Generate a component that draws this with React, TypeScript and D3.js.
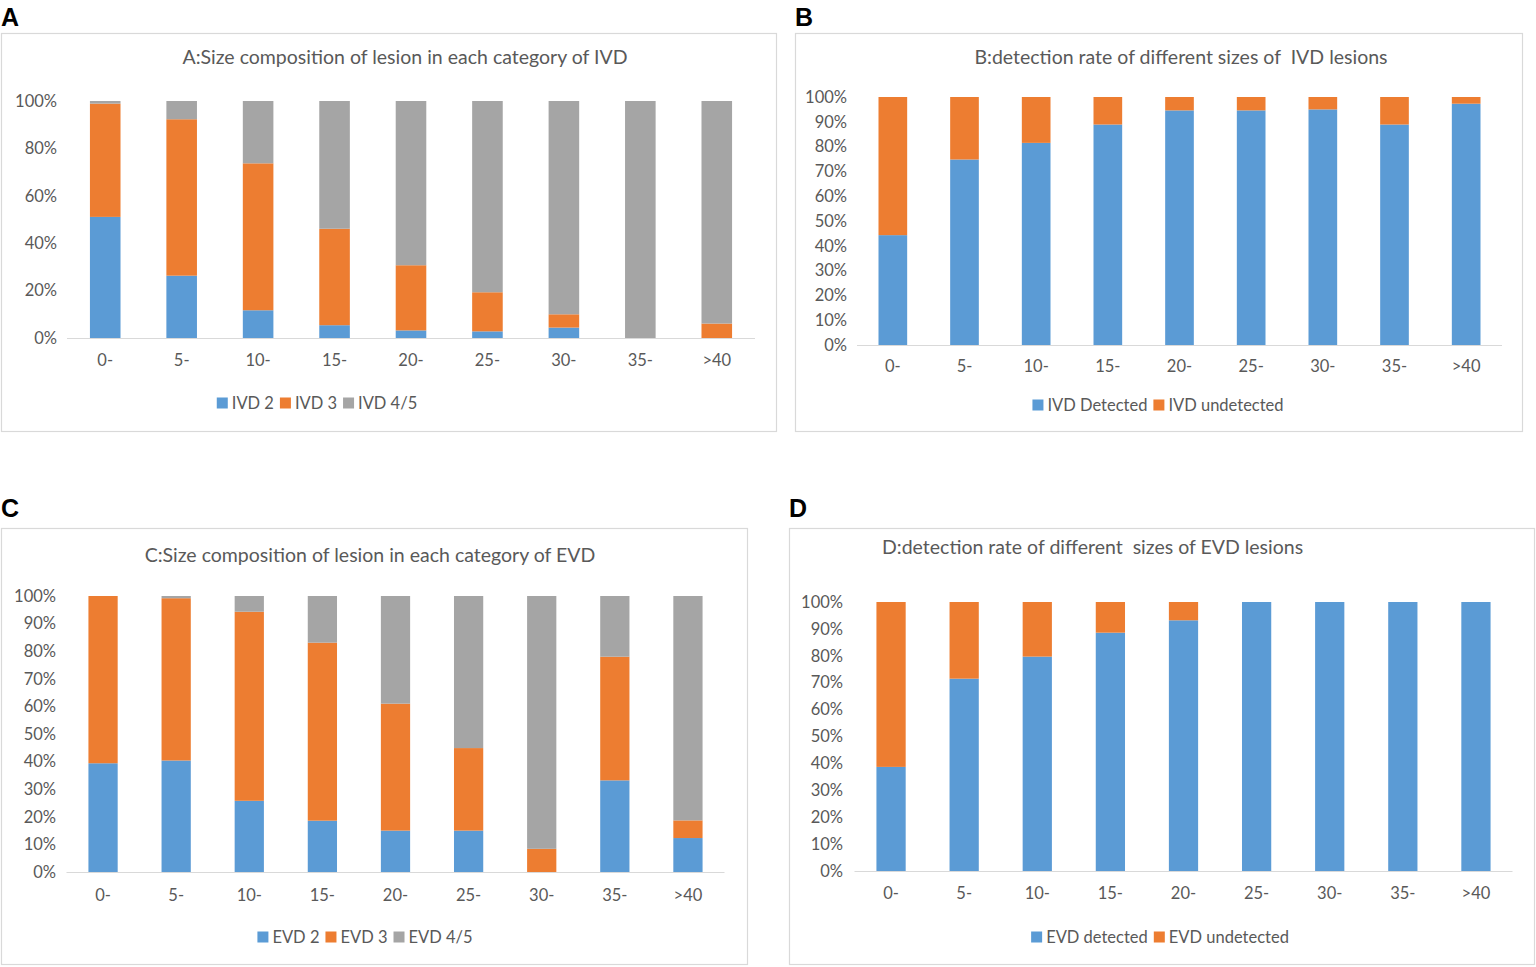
import React, { useEffect, useRef } from 'react';
import * as d3 from 'd3';

// size categories shared by all four charts
const sizeBins = ['0-', '5-', '10-', '15-', '20-', '25-', '30-', '35-', '>40'];

// A: IVD composition (%)
const ivd2 = [51.1, 26.3, 11.7, 5.4, 3.2, 2.8, 4.4, 0, 0];
const ivd3 = [47.8, 66.0, 62.0, 40.7, 27.5, 16.5, 5.6, 0, 6.1];
const ivd45 = [1.1, 7.7, 26.3, 53.9, 69.3, 80.7, 90.0, 100, 93.9];

// B: IVD detection (%)
const ivdDetected = [44.3, 74.8, 81.5, 88.9, 94.6, 94.6, 95.0, 88.9, 97.3];
const ivdUndetected = [55.7, 25.2, 18.5, 11.1, 5.4, 5.4, 5.0, 11.1, 2.7];

// C: EVD composition (%)
const evd2 = [39.4, 40.4, 25.8, 18.6, 15.0, 15.0, 0, 33.2, 12.3];
const evd3 = [60.6, 58.8, 68.5, 64.5, 46.0, 29.9, 8.4, 44.8, 6.4];
const evd45 = [0, 0.8, 5.7, 16.9, 39.0, 55.1, 91.6, 22.0, 81.3];

// D: EVD detection (%)
const evdDetected = [38.7, 71.5, 79.7, 88.6, 93.2, 100, 100, 100, 100];
const evdUndetected = [61.3, 28.5, 20.3, 11.4, 6.8, 0, 0, 0, 0];

const ticks20 = [0, 20, 40, 60, 80, 100];
const ticks10 = [0, 10, 20, 30, 40, 50, 60, 70, 80, 90, 100];

const BLUE = '#5B9BD5';
const ORANGE = '#ED7D31';
const GREY = '#A5A5A5';
const TEXT = '#595959';
const LINE = '#D9D9D9';
const FONT = 'Lato, "Open Sans", sans-serif';

interface Series {
  name: string;
  values: number[];
  color: string;
}

interface PanelSpec {
  letter: string;
  letterX: number;
  letterY: number;
  box: { x: number; y: number; w: number; h: number };
  plot: { x0: number; x1: number; top: number; bottom: number };
  title: string;
  titleX: number;
  titleY: number;
  titleAnchor: string;
  tickRight: number;
  xLabelY: number;
  legendX: number;
  legendY: number;
  yTicks: number[];
  series: Series[];
}

const panels: PanelSpec[] = [
  {
    letter: 'A', letterX: 1, letterY: 26,
    box: { x: 1.5, y: 33.5, w: 775, h: 398 },
    plot: { x0: 67, x1: 755, top: 101, bottom: 338 },
    title: 'A:Size composition of lesion in each category of IVD',
    titleX: 405, titleY: 57, titleAnchor: 'middle',
    tickRight: 57, xLabelY: 360, legendX: 317, legendY: 403,
    yTicks: ticks20,
    series: [
      { name: 'IVD 2', values: ivd2, color: BLUE },
      { name: 'IVD 3', values: ivd3, color: ORANGE },
      { name: 'IVD 4/5', values: ivd45, color: GREY }
    ]
  },
  {
    letter: 'B', letterX: 795, letterY: 26,
    box: { x: 795.5, y: 33.5, w: 727, h: 398 },
    plot: { x0: 857, x1: 1502, top: 97, bottom: 345 },
    title: 'B:detection rate of different sizes of  IVD lesions',
    titleX: 1181, titleY: 57, titleAnchor: 'middle',
    tickRight: 847, xLabelY: 366, legendX: 1158, legendY: 405,
    yTicks: ticks10,
    series: [
      { name: 'IVD Detected', values: ivdDetected, color: BLUE },
      { name: 'IVD undetected', values: ivdUndetected, color: ORANGE }
    ]
  },
  {
    letter: 'C', letterX: 1, letterY: 517,
    box: { x: 1.5, y: 528.5, w: 746, h: 436 },
    plot: { x0: 66.5, x1: 724.5, top: 596, bottom: 872 },
    title: 'C:Size composition of lesion in each category of EVD',
    titleX: 370, titleY: 555, titleAnchor: 'middle',
    tickRight: 56, xLabelY: 895, legendX: 365, legendY: 937,
    yTicks: ticks10,
    series: [
      { name: 'EVD 2', values: evd2, color: BLUE },
      { name: 'EVD 3', values: evd3, color: ORANGE },
      { name: 'EVD 4/5', values: evd45, color: GREY }
    ]
  },
  {
    letter: 'D', letterX: 789, letterY: 517,
    box: { x: 789.5, y: 528.5, w: 745, h: 436 },
    plot: { x0: 854.5, x1: 1512.5, top: 602, bottom: 871 },
    title: 'D:detection rate of different  sizes of EVD lesions',
    titleX: 882, titleY: 547, titleAnchor: 'start',
    tickRight: 843, xLabelY: 893, legendX: 1160, legendY: 937,
    yTicks: ticks10,
    series: [
      { name: 'EVD detected', values: evdDetected, color: BLUE },
      { name: 'EVD undetected', values: evdUndetected, color: ORANGE }
    ]
  }
];

const App: React.FC = () => {
  const svgRef = useRef<SVGSVGElement>(null);

  useEffect(() => {
    if (!svgRef.current) return;
    const svg = d3.select(svgRef.current);
    svg.selectAll('*').remove();
    svg.style('font-family', FONT);

    panels.forEach(p => {
      const g = svg.append('g');

      // panel letter
      g.append('text')
        .attr('x', p.letterX)
        .attr('y', p.letterY)
        .style('font-family', '"Liberation Sans", Arial, sans-serif')
        .style('font-size', '25px')
        .style('font-weight', '700')
        .style('fill', '#000')
        .text(p.letter);

      // chart frame
      g.append('rect')
        .attr('x', p.box.x)
        .attr('y', p.box.y)
        .attr('width', p.box.w)
        .attr('height', p.box.h)
        .attr('fill', '#fff')
        .attr('stroke', LINE)
        .attr('stroke-width', 1.2);

      g.append('text')
        .attr('x', p.titleX)
        .attr('y', p.titleY)
        .attr('dy', '0.35em')
        .attr('text-anchor', p.titleAnchor)
        .style('font-size', '19.5px')
        .style('white-space', 'pre')
        .style('fill', TEXT)
        .text(p.title);

      const x = d3.scaleBand<string>()
        .domain(sizeBins)
        .range([p.plot.x0, p.plot.x1])
        .paddingInner(0.6)
        .paddingOuter(0.3);

      const y = d3.scaleLinear()
        .domain([0, 100])
        .range([p.plot.bottom, p.plot.top]);

      // y tick labels
      g.selectAll('.ytick')
        .data(p.yTicks)
        .enter()
        .append('text')
        .attr('x', p.tickRight)
        .attr('y', d => y(d))
        .attr('dy', '0.35em')
        .attr('text-anchor', 'end')
        .style('font-size', '16.5px')
        .style('fill', TEXT)
        .text(d => `${d}%`);

      // stacked bars
      const rows = sizeBins.map((bin, i) => {
        const row: Record<string, number | string> = { bin };
        p.series.forEach(s => { row[s.name] = s.values[i]; });
        return row;
      });
      const stack = d3.stack<Record<string, number | string>>()
        .keys(p.series.map(s => s.name))
        .value((d, key) => d[key] as number);
      const layers = stack(rows);

      layers.forEach((layer, li) => {
        g.selectAll(`.bar-${li}`)
          .data(layer)
          .enter()
          .append('rect')
          .attr('x', d => x(d.data.bin as string) as number)
          .attr('y', d => y(Math.min(100, d[1])))
          .attr('width', x.bandwidth())
          .attr('height', d => Math.max(0, y(d[0]) - y(Math.min(100, d[1]))))
          .attr('fill', p.series[li].color);
      });

      // baseline
      g.append('line')
        .attr('x1', p.plot.x0)
        .attr('x2', p.plot.x1)
        .attr('y1', p.plot.bottom + 0.5)
        .attr('y2', p.plot.bottom + 0.5)
        .attr('stroke', LINE)
        .attr('stroke-width', 1.2);

      // x labels
      g.selectAll('.xlab')
        .data(sizeBins)
        .enter()
        .append('text')
        .attr('x', d => (x(d) as number) + x.bandwidth() / 2)
        .attr('y', p.xLabelY)
        .attr('dy', '0.35em')
        .attr('text-anchor', 'middle')
        .style('font-size', '16.5px')
        .style('fill', TEXT)
        .text(d => d);

      // legend, laid out from measured text widths
      const legend = g.append('g');
      let cursor = 0;
      p.series.forEach(s => {
        legend.append('rect')
          .attr('x', cursor)
          .attr('y', p.legendY - 5.5)
          .attr('width', 11)
          .attr('height', 11)
          .attr('fill', s.color);
        const t = legend.append('text')
          .attr('x', cursor + 15)
          .attr('y', p.legendY)
          .attr('dy', '0.35em')
          .style('font-size', '16.5px')
          .style('fill', TEXT)
          .text(s.name);
        const w = (t.node() as SVGTextElement).getComputedTextLength();
        cursor += 15 + w + 6;
      });
      const total = cursor - 6;
      legend.attr('transform', `translate(${p.legendX - total / 2},0)`);
    });
  }, []);

  return (
    <div style={{ position: 'absolute', left: 0, top: 0 }}>
      <svg ref={svgRef} width={1536} height={967} style={{ display: 'block', background: '#fff' }} />
    </div>
  );
};

export default App;
